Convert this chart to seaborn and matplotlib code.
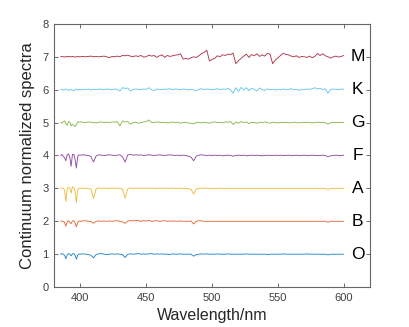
import numpy as np
import pandas as pd
import matplotlib
matplotlib.use("Agg")
import matplotlib.pyplot as plt
import seaborn as sns

# wavelength grid (nm)
wavelength = list(range(385, 401)) + list(range(402, 601, 2))

spec_O = [1.00, 1.02, 1.00, 0.97, 0.86, 0.98, 1.02, 1.00, 0.95, 1.01, 1.02, 0.97, 0.85, 0.97, 1.01, 1.00,
          1.01, 1.00, 0.99, 0.97, 0.89, 0.99, 1.01, 1.02, 1.00, 0.99,
          1.00, 1.01, 1.00, 1.01, 1.00, 0.99, 0.90, 1.00, 1.01, 1.00,
          1.01, 1.02, 1.00, 1.01, 1.00, 1.01, 1.02, 1.00, 1.01, 1.00,
          1.01, 1.00, 1.00, 0.99, 1.01, 1.00, 1.00, 1.01, 1.00, 1.00,
          1.00, 1.00, 0.94, 0.99, 1.00, 1.01, 1.00, 1.01, 1.00, 1.00,
          1.00, 1.01, 1.00, 1.00, 1.00, 1.01, 1.00, 1.00, 1.00, 1.00,
          1.00, 1.00, 1.01, 1.00, 1.00, 1.00, 1.00, 1.00, 1.00, 1.00,
          0.99, 1.00, 1.00, 1.00, 1.00, 1.00, 1.01, 1.00, 1.00, 1.00,
          1.00, 1.00, 1.00, 1.00, 1.00, 1.01, 1.00, 1.00, 1.00, 1.00,
          1.00, 1.00, 1.00, 0.98, 1.00, 1.00, 1.00, 1.00, 1.00, 1.00]

spec_B = [2.00, 2.01, 1.99, 1.97, 1.85, 1.98, 2.02, 1.96, 1.93, 2.01, 2.02, 1.95, 1.83, 1.97, 2.01, 2.00,
          2.01, 2.02, 2.00, 1.99, 1.94, 2.00, 2.01, 2.00, 2.01, 2.00,
          2.01, 2.00, 2.01, 2.02, 2.00, 1.98, 1.94, 2.01, 2.02, 2.01,
          2.03, 2.02, 2.00, 2.02, 2.01, 2.03, 2.00, 2.01, 2.02, 2.00,
          2.01, 2.02, 2.00, 2.01, 2.00, 2.01, 2.00, 2.01, 2.00, 2.00,
          2.00, 2.01, 1.92, 2.00, 2.02, 2.01, 2.00, 2.00, 2.00, 2.00,
          2.00, 2.00, 2.00, 2.00, 2.00, 2.00, 2.00, 2.00, 2.00, 2.00,
          2.00, 2.00, 2.00, 2.00, 2.00, 2.00, 2.00, 2.00, 2.00, 2.00,
          2.00, 2.00, 2.00, 2.00, 2.00, 2.00, 2.00, 2.00, 2.00, 2.00,
          2.00, 2.00, 2.00, 2.00, 2.00, 2.00, 2.00, 2.00, 2.00, 2.00,
          2.00, 2.00, 2.00, 1.97, 2.00, 2.00, 2.00, 2.00, 2.00, 2.00]

spec_A = [3.00, 3.01, 3.00, 2.95, 2.60, 2.98, 3.03, 3.01, 2.86, 3.05, 3.02, 2.92, 2.57, 2.95, 3.01, 3.00,
          3.01, 3.00, 3.00, 2.98, 2.69, 2.99, 3.01, 3.00, 3.01, 3.00,
          3.00, 3.01, 3.00, 3.01, 3.00, 2.98, 2.70, 2.99, 3.01, 3.00,
          3.01, 3.00, 3.01, 3.00, 3.01, 3.00, 3.01, 3.00, 3.00, 3.01,
          3.00, 3.01, 3.00, 3.00, 3.01, 3.00, 3.00, 3.01, 3.00, 3.00,
          2.99, 2.97, 2.83, 2.98, 3.00, 3.01, 3.00, 3.01, 3.00, 3.00,
          3.00, 3.00, 3.01, 3.00, 3.00, 3.00, 3.00, 3.00, 3.00, 3.00,
          3.00, 3.00, 3.00, 3.00, 3.00, 3.00, 3.00, 3.00, 3.00, 3.00,
          3.00, 3.00, 3.00, 3.00, 3.00, 3.00, 3.00, 3.00, 3.00, 3.00,
          3.00, 3.00, 3.00, 3.00, 3.00, 3.00, 3.00, 3.00, 3.00, 3.00,
          3.00, 3.00, 3.00, 2.97, 3.00, 3.00, 3.00, 3.00, 3.00, 3.00]

spec_F = [4.00, 4.03, 3.98, 3.93, 3.84, 4.02, 4.05, 3.95, 3.67, 4.03, 4.04, 3.88, 3.62, 3.97, 4.02, 4.01,
          4.02, 4.01, 4.00, 3.97, 3.80, 3.99, 4.02, 4.01, 4.00, 4.01,
          4.02, 4.01, 4.00, 4.01, 4.02, 3.96, 3.80, 4.02, 4.03, 4.01,
          4.02, 4.01, 4.02, 4.00, 4.01, 4.02, 4.01, 4.00, 4.01, 4.02,
          4.01, 4.00, 4.01, 4.02, 4.01, 4.00, 4.01, 4.00, 4.01, 4.00,
          3.98, 3.95, 3.84, 3.98, 4.01, 4.02, 4.01, 4.00, 4.01, 4.00,
          4.01, 4.00, 4.01, 3.99, 4.00, 4.01, 4.00, 3.98, 4.00, 4.01,
          4.00, 4.01, 3.99, 4.00, 4.01, 4.00, 4.01, 4.00, 3.99, 4.00,
          4.01, 4.00, 4.00, 4.01, 4.00, 4.01, 4.00, 4.00, 4.01, 4.00,
          4.00, 4.01, 4.00, 4.00, 4.01, 4.00, 4.00, 4.01, 4.00, 4.00,
          4.00, 4.01, 4.00, 3.96, 3.99, 4.00, 4.01, 4.00, 4.00, 4.01]

spec_G = [5.00, 4.98, 5.03, 5.05, 4.96, 4.92, 5.03, 5.01, 4.90, 4.95, 4.92, 4.88, 4.93, 5.02, 5.01, 5.02,
          5.01, 5.00, 5.02, 5.01, 5.00, 4.99, 5.01, 5.02, 5.00, 5.01,
          5.00, 5.02, 5.01, 5.03, 4.90, 5.05, 5.02, 5.03, 4.95, 5.00,
          5.01, 4.98, 5.00, 5.02, 5.03, 5.08, 5.01, 5.00, 5.02, 5.01,
          5.00, 5.01, 4.99, 5.00, 5.02, 5.00, 5.01, 4.98, 5.00, 5.01,
          4.99, 4.98, 4.96, 5.00, 5.01, 4.99, 5.01, 5.00, 4.98, 5.01,
          5.02, 5.00, 5.01, 4.99, 5.02, 5.01, 5.03, 4.94, 5.02, 4.98,
          5.03, 5.00, 5.02, 4.97, 5.01, 5.00, 4.98, 5.01, 5.00, 5.02,
          5.00, 4.98, 5.01, 5.00, 4.99, 5.01, 5.00, 5.01, 4.99, 5.00,
          5.01, 5.00, 4.99, 5.01, 5.00, 5.01, 5.00, 4.99, 5.00, 5.01,
          5.00, 5.01, 5.00, 4.95, 5.00, 5.01, 5.00, 5.01, 5.00, 5.00]

spec_K = [6.00, 6.01, 5.99, 6.00, 6.02, 6.00, 5.98, 6.00, 6.01, 5.98, 5.97, 6.00, 6.02, 5.99, 6.01, 6.00,
          6.01, 6.00, 6.02, 5.99, 6.01, 6.00, 6.02, 6.01, 6.00, 6.02,
          6.01, 6.00, 6.02, 6.01, 5.96, 6.06, 6.04, 6.05, 5.96, 6.00,
          6.02, 6.01, 6.00, 6.02, 6.01, 6.06, 6.00, 5.97, 6.02, 6.01,
          6.00, 6.02, 6.01, 6.03, 6.00, 6.02, 6.01, 6.00, 6.02, 6.01,
          6.00, 6.01, 5.99, 5.97, 6.01, 6.03, 6.00, 6.02, 6.01, 6.00,
          6.01, 6.03, 6.00, 6.02, 6.01, 6.04, 6.00, 5.89, 6.06, 5.95,
          6.07, 5.99, 6.06, 5.97, 6.04, 6.01, 5.96, 6.05, 6.00, 5.98,
          6.02, 6.00, 6.01, 5.99, 6.01, 6.00, 6.02, 6.00, 6.01, 6.03,
          6.00, 6.01, 5.98, 6.01, 6.00, 6.02, 6.01, 6.03, 6.06, 6.02,
          6.04, 6.00, 6.03, 5.89, 6.01, 6.02, 6.01, 6.00, 6.02, 6.01]

spec_M = [7.00, 7.01, 7.00, 6.99, 7.01, 7.00, 7.01, 7.00, 7.00, 7.01, 7.00, 6.99, 7.00, 7.01, 7.00, 7.00,
          7.01, 7.00, 7.01, 7.02, 7.00, 7.01, 7.00, 7.01, 7.02, 7.00,
          6.97, 7.01, 7.00, 7.02, 7.00, 7.04, 7.03, 7.05, 7.02, 7.00,
          7.03, 7.01, 7.04, 6.99, 7.00, 7.05, 7.02, 7.04, 6.98, 7.03,
          7.06, 6.98, 7.04, 7.01, 7.03, 7.05, 7.06, 7.09, 6.93, 6.95,
          6.93, 6.97, 7.00, 6.98, 7.03, 7.10, 7.13, 7.20, 6.87, 6.92,
          6.95, 7.03, 7.00, 7.06, 7.04, 7.08, 7.07, 7.11, 6.79, 6.88,
          6.95, 7.02, 7.08, 6.98, 7.07, 7.03, 7.09, 7.01, 7.06, 7.02,
          7.10, 7.08, 6.79, 6.90, 6.97, 7.04, 7.11, 7.07, 7.06, 7.02,
          7.00, 7.03, 6.98, 7.01, 7.00, 6.98, 7.02, 6.97, 7.01, 7.10,
          7.04, 7.09, 7.03, 7.00, 6.96, 7.00, 7.02, 6.99, 7.01, 7.04]

spectral_types = ["O", "B", "A", "F", "G", "K", "M"]
label_levels = [1, 2, 3, 4, 5, 6, 7]
series = [spec_O, spec_B, spec_A, spec_F, spec_G, spec_K, spec_M]
colors = ["#0072BD", "#D95319", "#EDB120", "#7E2F8E", "#77AC30", "#4DBEEE", "#A2142F"]

frames = []
for t, s in zip(spectral_types, series):
    frames.append(pd.DataFrame({"wavelength": wavelength, "flux": s, "type": t}))
df = pd.concat(frames, ignore_index=True)

sns.set_style("white")
plt.rcParams["font.family"] = ["Liberation Sans", "DejaVu Sans"]

fig = plt.figure(figsize=(4.09, 3.27), dpi=100)
ax = fig.add_axes([0.132, 0.122, 0.773, 0.805])

sns.lineplot(data=df, x="wavelength", y="flux", hue="type", hue_order=spectral_types,
             palette=dict(zip(spectral_types, colors)), estimator=None, sort=False,
             linewidth=0.65, alpha=0.85, legend=False, ax=ax)

for t, lvl in zip(spectral_types, label_levels):
    ax.text(610.5, lvl, t, ha="center", va="center", fontsize=12.5, color="black")

ax.set_xlim(380, 620)
ax.set_ylim(0, 8)
ax.set_xticks([400, 450, 500, 550, 600])
ax.set_yticks(range(0, 9))
ax.set_xlabel("Wavelength/nm", fontsize=11.5, color="#262626", labelpad=4)
ax.set_ylabel("Continuum normalized spectra", fontsize=12, color="#262626", labelpad=5)
ax.tick_params(direction="in", length=3, width=0.6, color="#555555", labelsize=8,
               labelcolor="#404040", top=True, right=True, left=True, bottom=True, pad=4)
for sp in ax.spines.values():
    sp.set_color("#666666")
    sp.set_linewidth(0.8)

fig.savefig("out.png", dpi=100)
